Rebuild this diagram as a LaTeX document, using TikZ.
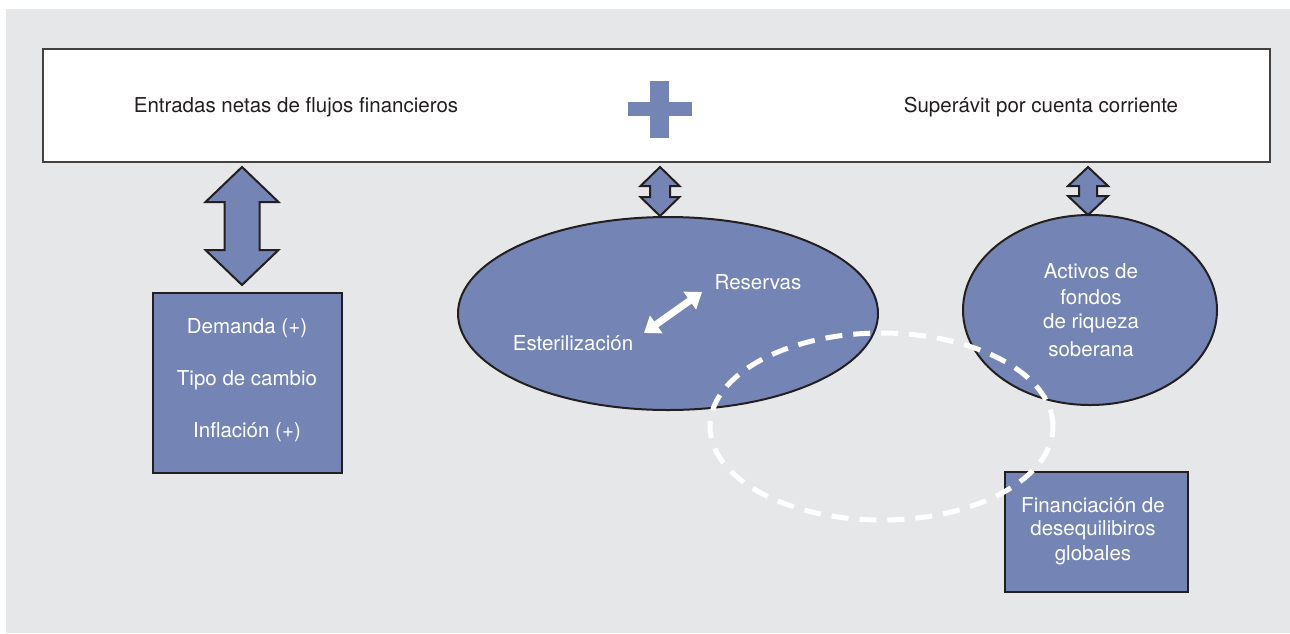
\documentclass[tikz,border=0pt]{standalone}
\usepackage{fontspec}
\setmainfont{TeX Gyre Heros}
\usetikzlibrary{shapes.geometric,arrows.meta}
\definecolor{bgrey}{RGB}{230,231,233}
\definecolor{fblue}{RGB}{116,132,180}
\definecolor{dline}{RGB}{35,31,32}
\definecolor{dtext}{RGB}{35,31,32}
\newcommand\fatarrow[6]{% cx, ytop, ybot, head half width, shaft half width, head height
  \filldraw[fill=fblue,draw=dline,line width=2pt,line join=miter]
    (#1,#2) -- (#1+#4,#2+#6) -- (#1+#5,#2+#6) -- (#1+#5,#3-#6) -- (#1+#4,#3-#6)
    -- (#1,#3) -- (#1-#4,#3-#6) -- (#1-#5,#3-#6) -- (#1-#5,#2+#6) -- (#1-#4,#2+#6) -- cycle;}
\tikzset{
  bluebox/.style={draw=dline,line width=2.2pt,fill=fblue,inner sep=0pt},
  blueell/.style={ellipse,draw=dline,line width=2pt,fill=fblue,inner sep=0pt},
  wtext/.style={text=white,font=\fontsize{20.5}{24}\selectfont,align=center,inner sep=0pt},
  ktext/.style={text=dtext,font=\fontsize{20.5}{24}\selectfont,inner sep=0pt},
}
\begin{document}
\begin{tikzpicture}[x=1pt,y=-1pt]
\useasboundingbox (0,0) rectangle (1290,633);
\fill[white] (0,0) rectangle (1290,633);
\fill[bgrey] (6,9) rectangle (1290,633);
% top box
\node[draw=dline!85,line width=2.5pt,fill=white,minimum width=1227pt,minimum height=113pt,inner sep=0pt] (top) at (656.5,105.5) {};
\node[ktext] (entr) at (296,107) {Entradas netas de flujos financieros};
\node[ktext] (sup) at (1041,107) {Superávit por cuenta corriente};
% plus sign
\fill[fblue] (650,81) rectangle (669,138);
\fill[fblue] (628,102) rectangle (692,116);
% block arrows
\fatarrow{242}{167}{285}{36.5}{17.5}{35}
\fatarrow{660}{167}{216}{19.5}{10}{19}
\fatarrow{1088}{167}{215}{20}{9}{19}
% left box
\node[bluebox,minimum width=189pt,minimum height=180pt] (dem) at (247.5,383) {};
\node[wtext] at (247,328) {Demanda (+)};
\node[wtext] at (247,380) {Tipo de cambio};
\node[wtext] at (247,432) {Inflación (+)};
% middle ellipse
\node[blueell,minimum width=420pt,minimum height=193pt] (res) at (668,313.5) {};
\node[wtext] (resv) at (758,282) {Reservas};
\node[wtext] (ester) at (573,343) {Esterilización};
\coordinate (wa) at (644,333);
\coordinate (wb) at (702,292);
\draw[white,line width=7pt,{Triangle[width=21pt,length=15pt]}-{Triangle[width=21pt,length=15pt]}] (wa) -- (wb);
% right ellipse
\node[blueell,minimum width=254pt,minimum height=190pt] (act) at (1090,310) {};
\node[wtext] at (1091,271) {Activos de};
\node[wtext] at (1091,297) {fondos};
\node[wtext] at (1091,323) {de riqueza};
\node[wtext] at (1091,349) {soberana};
% bottom right box
\node[bluebox,minimum width=183pt,minimum height=120pt] (fin) at (1096.5,532) {};
\node[wtext] at (1093,505) {Financiación de};
\node[wtext] at (1093,530) {desequilibiros};
\node[wtext] at (1093,555) {globales};
% dashed ellipse
\draw[white,line width=5pt,dash pattern=on 17pt off 11pt] (881.5,426.5) ellipse [x radius=171.5pt,y radius=93.5pt];
\end{tikzpicture}
\end{document}
